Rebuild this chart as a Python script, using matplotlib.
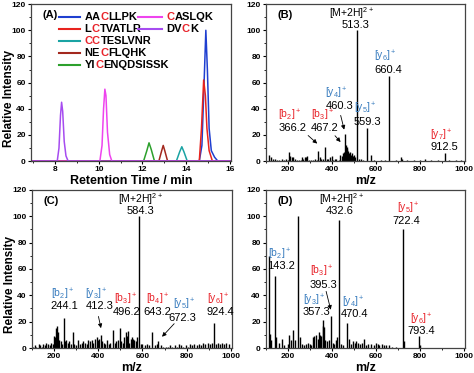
import numpy as np
import matplotlib
matplotlib.use("Agg")
import matplotlib.pyplot as plt
from matplotlib.offsetbox import TextArea, HPacker, VPacker, DrawingArea, AnchoredOffsetbox
from matplotlib.lines import Line2D

plt.rcParams['font.family'] = ['Liberation Sans', 'DejaVu Sans']
plt.rcParams['mathtext.fontset'] = 'custom'
plt.rcParams['mathtext.rm'] = 'Liberation Sans'
plt.rcParams['mathtext.it'] = 'Liberation Sans:italic'
plt.rcParams['mathtext.bf'] = 'Liberation Sans:bold'

RED = '#e8232a'
BLUE = '#3a7dbf'

# ---- (A) extracted ion chromatograms: (name parts, colour, times, intensities)
peptides = ["AACLLPK", "LCTVATLR", "CCTESLVNR", "NECFLQHK", "YICENQDSISSK", "CASLQK", "DVCK"]
name_parts = {
    "AACLLPK": ["AA", "C", "LLPK"],
    "LCTVATLR": ["L", "C", "TVATLR"],
    "CCTESLVNR": ["", "CC", "TESLVNR"],
    "NECFLQHK": ["NE", "C", "FLQHK"],
    "YICENQDSISSK": ["YI", "C", "ENQDSISSK"],
    "CASLQK": ["", "C", "ASLQK"],
    "DVCK": ["DV", "C", "K"],
}
pep_colors = {
    "AACLLPK": "#1f3fd0",
    "LCTVATLR": "#e8231e",
    "CCTESLVNR": "#1aa3a3",
    "NECFLQHK": "#a3281e",
    "YICENQDSISSK": "#2ca02c",
    "CASLQK": "#ee44ee",
    "DVCK": "#a64cf0",
}
pep_times = {
    "DVCK": [7.0, 8.1, 8.18, 8.25, 8.3, 8.35, 8.42, 8.5, 8.6, 16.0],
    "CASLQK": [7.0, 10.05, 10.15, 10.22, 10.28, 10.33, 10.4, 10.5, 10.6, 16.0],
    "YICENQDSISSK": [7.0, 12.05, 12.2, 12.3, 12.4, 12.55, 16.0],
    "NECFLQHK": [7.0, 12.75, 12.88, 12.95, 13.02, 13.15, 16.0],
    "CCTESLVNR": [7.0, 13.55, 13.7, 13.8, 13.9, 14.05, 16.0],
    "AACLLPK": [7.0, 14.6, 14.72, 14.82, 14.9, 14.97, 15.05, 15.15, 15.3, 15.45, 16.0],
    "LCTVATLR": [7.0, 14.6, 14.7, 14.8, 14.88, 14.95, 15.05, 15.2, 16.0],
}
pep_ints = {
    "DVCK": [0, 0, 10, 35, 45, 38, 15, 4, 0, 0],
    "CASLQK": [0, 0, 12, 40, 55, 50, 22, 5, 0, 0],
    "YICENQDSISSK": [0, 0, 8, 14, 9, 0, 0],
    "NECFLQHK": [0, 0, 8, 12, 8, 0, 0],
    "CCTESLVNR": [0, 0, 7, 11, 7, 0, 0],
    "AACLLPK": [0, 0, 12, 60, 100, 70, 25, 8, 3, 0, 0],
    "LCTVATLR": [0, 0, 25, 62, 50, 25, 8, 0, 0],
}
draw_order = ["YICENQDSISSK", "NECFLQHK", "CCTESLVNR", "AACLLPK", "LCTVATLR", "CASLQK", "DVCK"]

# ---- MS/MS spectra: (m/z, relative intensity)
b_peaks = [(115, 5), (122, 3), (130, 2), (140, 2), (150, 1), (160, 1), (172, 2), (180, 1), (190, 2),
           (200, 1), (205, 7), (210, 4), (218, 3), (225, 3), (232, 2), (240, 1), (250, 1), (258, 1),
           (265, 3), (270, 2), (276, 3), (282, 3), (288, 4), (295, 1), (305, 1), (315, 1), (322, 2),
           (330, 1), (338, 8), (345, 3), (352, 2), (360, 2), (366, 11), (375, 2), (382, 2), (390, 3),
           (398, 4), (405, 1), (412, 2), (420, 2), (430, 1), (438, 5), (444, 4), (448, 6), (452, 7),
           (456, 5), (460, 21), (463, 12), (466, 11), (469, 9), (472, 8), (476, 6), (480, 7), (485, 5),
           (490, 6), (495, 4), (500, 5), (505, 3), (513, 100), (520, 2), (530, 2), (540, 1), (559, 25),
           (575, 5), (590, 1), (620, 1), (640, 1), (660, 65), (690, 1), (712, 3), (718, 2), (740, 1),
           (770, 1), (800, 1), (822, 1.5), (850, 1), (880, 1), (912, 6), (930, 1), (960, 1), (985, 1)]
c_peaks = [(105, 1), (112, 2), (120, 1), (130, 3), (138, 2), (145, 1), (152, 3), (160, 2), (165, 4),
           (172, 3), (180, 2), (188, 4), (195, 3), (200, 9), (205, 8), (210, 15), (214, 17), (218, 12),
           (222, 6), (230, 5), (236, 3), (244, 23), (250, 5), (255, 6), (262, 4), (268, 5), (275, 3),
           (285, 12), (292, 3), (300, 2), (310, 6), (318, 3), (325, 4), (332, 5), (340, 4), (348, 3),
           (355, 6), (362, 5), (370, 6), (378, 4), (385, 7), (392, 8), (398, 6), (405, 7), (412, 10),
           (418, 5), (425, 4), (432, 3), (440, 6), (448, 3), (455, 4), (466, 14), (475, 4), (482, 5),
           (490, 6), (496, 15), (505, 5), (512, 4), (518, 8), (524, 12), (528, 9), (533, 13), (540, 4),
           (548, 7), (553, 8), (558, 7), (562, 6), (570, 5), (576, 8), (584, 100), (592, 3), (600, 3),
           (610, 2), (620, 3), (630, 2), (643, 12), (655, 2), (665, 3), (672, 5), (685, 2), (695, 1),
           (705, 1), (715, 1), (725, 2), (735, 1), (745, 2), (755, 1), (765, 3), (775, 2), (785, 1),
           (795, 2), (805, 1), (815, 3), (825, 2), (835, 3), (845, 2), (855, 3), (865, 2), (875, 4),
           (885, 3), (895, 4), (905, 3), (915, 4), (924, 19), (932, 3), (940, 4), (950, 3), (960, 4),
           (970, 3), (980, 4), (990, 3)]
d_peaks = [(115, 70), (118, 11), (124, 6), (143, 55), (147, 8), (160, 4), (175, 7), (182, 2), (200, 3),
           (205, 10), (212, 6), (222, 14), (230, 6), (244, 100), (255, 8), (262, 3), (272, 2), (282, 3),
           (290, 4), (298, 3), (305, 2), (315, 8), (320, 9), (328, 10), (335, 7), (340, 12), (345, 10),
           (352, 9), (357, 21), (361, 17), (365, 16), (370, 6), (378, 5), (385, 6), (395, 24), (402, 4),
           (410, 3), (418, 6), (424, 8), (432, 97), (440, 3), (450, 2), (470, 19), (478, 7), (485, 3),
           (495, 5), (502, 4), (510, 5), (518, 4), (525, 3), (535, 4), (545, 7), (555, 2), (565, 3),
           (578, 3), (590, 2), (600, 4), (608, 3), (615, 2), (625, 3), (635, 2), (645, 2), (660, 2),
           (672, 1), (690, 1), (722, 90), (728, 5), (793, 9), (800, 2)]

# ion labels: (label, colour, label x, label y, value, value x, value y)
b_labels = [("[M+2H]$^{2+}$", 'k', 490, 113, "513.3", 505, 104),
            ("[y$_6$]$^+$", BLUE, 641, 80, "660.4", 655, 70),
            ("[y$_4$]$^+$", BLUE, 420, 52, "460.3", 436, 42),
            ("[y$_5$]$^+$", BLUE, 550, 40, "559.3", 559, 30),
            ("[b$_2$]$^+$", RED, 209, 35, "366.2", 223, 25),
            ("[b$_3$]$^+$", RED, 359, 35, "467.2", 368, 25),
            ("[y$_7$]$^+$", RED, 895, 20, "912.5", 909, 11)]
c_labels = [("[M+2H]$^{2+}$", 'k', 591, 113, "584.3", 591, 104),
            ("[b$_2$]$^+$", BLUE, 237, 41, "244.1", 246, 32),
            ("[y$_3$]$^+$", BLUE, 393, 41, "412.3", 407, 32),
            ("[b$_3$]$^+$", RED, 522, 37, "496.2", 526, 27),
            ("[b$_4$]$^+$", RED, 669, 37, "643.2", 669, 27),
            ("[y$_5$]$^+$", BLUE, 790, 33, "672.3", 782, 23),
            ("[y$_6$]$^+$", RED, 943, 37, "924.4", 950, 27)]
d_labels = [("[M+2H]$^{2+}$", 'k', 442, 113, "432.6", 435, 104),
            ("[y$_5$]$^+$", RED, 745, 106, "722.4", 738, 96),
            ("[b$_2$]$^+$", BLUE, 162, 71, "143.2", 170, 62),
            ("[b$_3$]$^+$", RED, 351, 58, "395.3", 359, 48),
            ("[y$_3$]$^+$", BLUE, 321, 36, "357.3", 329, 27),
            ("[y$_4$]$^+$", BLUE, 495, 35, "470.4", 503, 26),
            ("[y$_6$]$^+$", RED, 806, 22, "793.4", 803, 13)]
# arrows: (tail x, tail y, head x, head y)
b_arrows = [(282, 21, 342, 12), (405, 21, 447, 13), (436, 37, 458, 22)]
c_arrows = [(398, 26, 415, 13), (752, 20, 680, 7)]
d_arrows = [(370, 45, 397, 27)]

fig = plt.figure(figsize=(4.74, 3.73), dpi=100)
axA = fig.add_axes([0.0654, 0.568, 0.4219, 0.421])
axB = fig.add_axes([0.561, 0.568, 0.421, 0.421])
axC = fig.add_axes([0.0675, 0.067, 0.4219, 0.424])
axD = fig.add_axes([0.561, 0.067, 0.421, 0.424])


def style(ax, panel):
    for s in ax.spines.values():
        s.set_color('#444444')
        s.set_linewidth(0.9)
    ax.set_ylim(0, 120)
    ax.set_yticks(range(0, 121, 20))
    ax.tick_params(which='major', direction='out', length=2.5, width=0.8, pad=1.2,
                   labelsize=6)
    ax.tick_params(which='minor', direction='out', length=1.5, width=0.6)
    for lab in ax.get_xticklabels() + ax.get_yticklabels():
        lab.set_fontweight('bold')
    ax.text(0.06, 0.93, panel, transform=ax.transAxes, fontsize=8, fontweight='bold',
            va='center', ha='left')


def spectrum(ax, peaks, labels, arrows, panel):
    mz = [p[0] for p in peaks]
    inten = [p[1] for p in peaks]
    ax.vlines(mz, 0, inten, color='k', lw=1.0)
    ax.set_xlim(100, 1005)
    ax.set_xticks([200, 400, 600, 800, 1000])
    ax.set_xticks(range(100, 1001, 100), minor=True)
    ax.set_yticks(range(0, 121, 10), minor=True)
    style(ax, panel)
    for lab, col, lx, ly, val, vx, vy in labels:
        ax.text(lx, ly, lab, color=col, fontsize=7.5, ha='center', va='center')
        ax.text(vx, vy, val, color='k', fontsize=8, ha='center', va='center')
    for tx, ty, hx, hy in arrows:
        ax.annotate('', xy=(hx, hy), xytext=(tx, ty),
                    arrowprops=dict(arrowstyle='-|>', color='k', lw=0.6, mutation_scale=6))
    ax.set_xlabel('m/z', fontsize=9, fontweight='bold', labelpad=1)


def ylab(ax):
    ax.set_ylabel('Relative Intensity', fontsize=8.5, fontweight='bold', labelpad=0)
    ax.yaxis.set_label_coords(-0.08, 0.4)


# (A)
for pep in draw_order:
    axA.plot(pep_times[pep], pep_ints[pep], color=pep_colors[pep], lw=1.1)
axA.set_xlim(6.9, 16.05)
axA.set_xticks([8, 10, 12, 14, 16])
axA.set_xticks(range(7, 17), minor=True)
axA.set_yticks(range(0, 121, 10), minor=True)
style(axA, '(A)')
axA.set_xlabel('Retention Time / min', fontsize=9, fontweight='bold', labelpad=1)
ylab(axA)


def legend_col(peps, line_len):
    rows = []
    for pep in peps:
        da = DrawingArea(line_len, 6)
        da.add_artist(Line2D([0, line_len], [3, 3], color=pep_colors[pep], lw=1.5))
        pre, mid, post = name_parts[pep]
        parts = []
        for s, c in ((pre, 'k'), (mid, RED), (post, 'k')):
            if s:
                parts.append(TextArea(s, textprops=dict(color=c, fontsize=8, fontweight='bold')))
        txt = HPacker(children=parts, sep=0, pad=0, align='baseline')
        rows.append(HPacker(children=[da, txt], sep=3.5, pad=0, align='center'))
    return VPacker(children=rows, sep=1.5, pad=0, align='left')


colA = AnchoredOffsetbox(loc='upper left', child=legend_col(peptides[:5], 15), pad=0, borderpad=0,
                         frameon=False, bbox_to_anchor=(0.14, 0.95), bbox_transform=axA.transAxes)
colB = AnchoredOffsetbox(loc='upper left', child=legend_col(peptides[5:], 17), pad=0, borderpad=0,
                         frameon=False, bbox_to_anchor=(0.535, 0.95), bbox_transform=axA.transAxes)
axA.add_artist(colA)
axA.add_artist(colB)

spectrum(axB, b_peaks, b_labels, b_arrows, '(B)')
spectrum(axC, c_peaks, c_labels, c_arrows, '(C)')
ylab(axC)
spectrum(axD, d_peaks, d_labels, d_arrows, '(D)')

fig.savefig('out.png', dpi=100)
